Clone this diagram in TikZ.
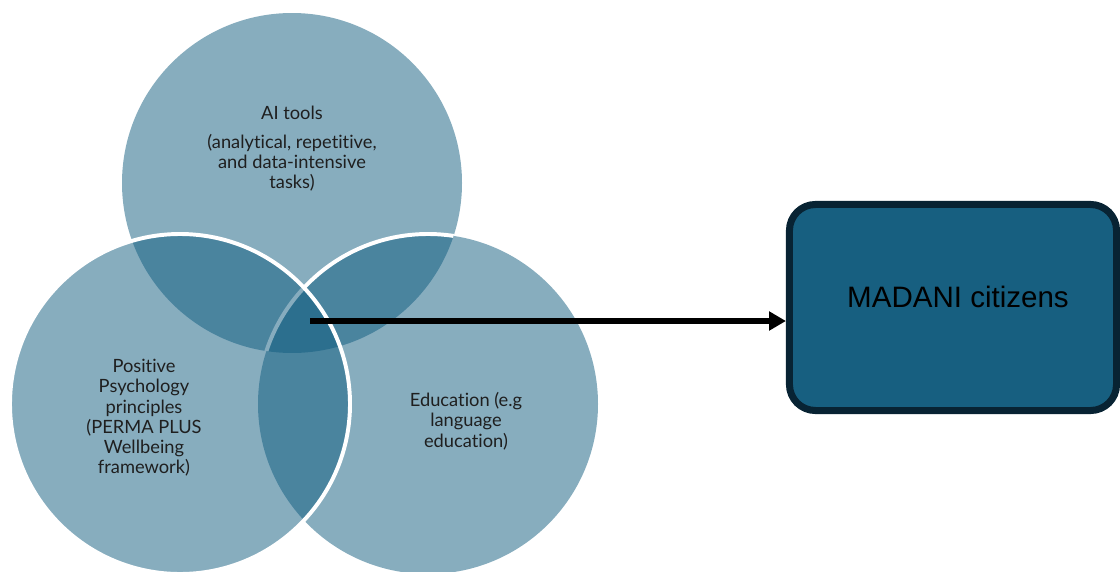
\documentclass[tikz,border=0pt]{standalone}
\usepackage{fontspec}
\newfontfamily\vennfont[Ligatures=NoCommon]{Lato}
\newfontfamily\boxfont{Liberation Sans}
\usetikzlibrary{arrows.meta}
\definecolor{vennblue}{RGB}{15,91,126}
\definecolor{boxfill}{RGB}{23,95,128}
\definecolor{boxline}{RGB}{8,35,51}

\begin{document}
\begin{tikzpicture}[x=0.025cm,y=-0.025cm,
  venn/.style={fill=vennblue,fill opacity=0.5},
  rim/.style={white,line width=2.8pt},
  venntext/.style={font=\vennfont\fontsize{13}{14.4}\selectfont,align=center,text=black!88},
  goal/.style={draw=boxline,fill=boxfill,line width=5pt,rounded corners=0.65cm,minimum width=8.175cm,minimum height=5.15cm}]
\useasboundingbox (0,0) rectangle (1120,572);

\coordinate (ai) at (292,183);
\coordinate (edu) at (428,404);
\coordinate (pp) at (180,404);

\fill[venn] (ai) circle (170);
\fill[venn] (edu) circle (170);
\begin{scope}
\clip (ai) circle (170);
\draw[rim] (edu) circle (170);
\end{scope}
\fill[venn] (pp) circle (170);
\draw[rim] (pp) circle (170);

\node[venntext] (aitxt) at (292,149) {AI tools\\[6pt](analytical, repetitive,\\and data-intensive\\tasks)};
\node[venntext] (pptxt) at (144,418) {Positive\\Psychology\\principles\\(PERMA PLUS\\Wellbeing\\framework)};
\node[venntext] (edutxt) at (466,421) {Education (e.g\\language\\education)};

\node[goal] (madani) at (953,307.5) {};
\node[font=\boxfont\fontsize{21}{25}\selectfont] (madanitxt) at (958,297) {MADANI citizens};

\coordinate (hub) at (310,321);
\draw[line width=4pt,-{Triangle[length=12pt,width=13pt]}] (hub) -- (madani.west |- hub);

\end{tikzpicture}
\end{document}
